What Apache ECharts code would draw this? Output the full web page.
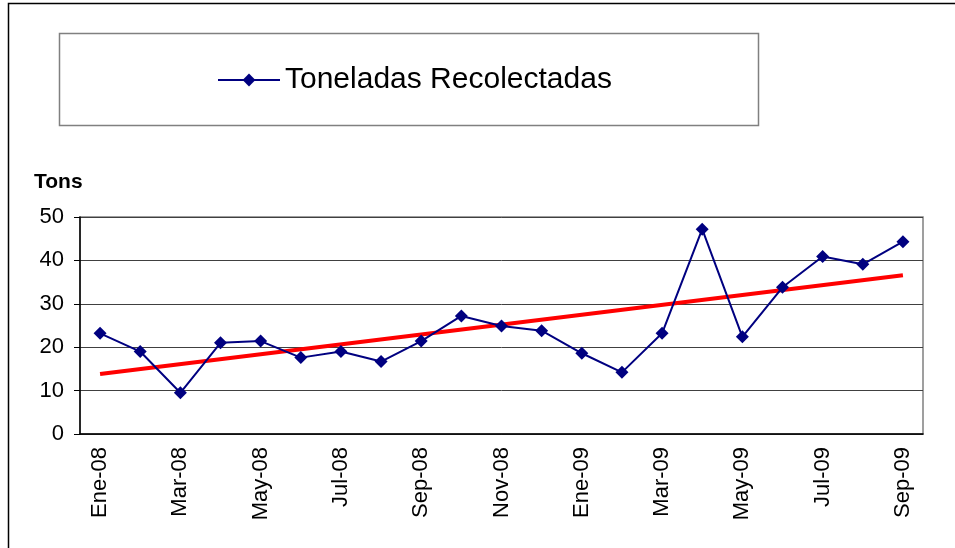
<!DOCTYPE html>
<html>
<head>
<meta charset="utf-8">
<script src="https://cdn.jsdelivr.net/npm/echarts@6/dist/echarts.min.js"></script>
<style>
html,body{margin:0;padding:0;background:#fff;}
#c{width:955px;height:548px;}
</style>
</head>
<body>
<div id="c"></div>
<script>
const categories = ['Ene-08','Feb-08','Mar-08','Abr-08','May-08','Jun-08','Jul-08','Ago-08','Sep-08','Oct-08','Nov-08','Dic-08','Ene-09','Feb-09','Mar-09','Abr-09','May-09','Jun-09','Jul-09','Ago-09','Sep-09'];
const tons = [23.2, 19.0, 9.5, 21.0, 21.4, 17.6, 19.0, 16.7, 21.4, 27.2, 24.9, 23.8, 18.6, 14.2, 23.2, 47.2, 22.4, 33.8, 40.9, 39.1, 44.3];
const trendStart = 13.8;
const trendEnd = 36.6;
const seriesName = 'Toneladas Recolectadas';
const yTitle = 'Tons';

const trend = categories.map((c, i) => i === 0 ? trendStart : (i === categories.length - 1 ? trendEnd : null));
const font = '"Liberation Sans", Arial, sans-serif';

const chart = echarts.init(document.getElementById('c'), null, {renderer: 'canvas'});
chart.setOption({
  animation: false,
  backgroundColor: '#fff',
  graphic: [
    {type: 'rect', shape: {x: 8.5, y: 3.5, width: 1000, height: 600}, style: {fill: 'none', stroke: '#000', lineWidth: 1.5}, z: 0},
    {type: 'rect', shape: {x: 59.5, y: 33.5, width: 699, height: 92}, style: {fill: '#fff', stroke: '#808080', lineWidth: 1.5}, z: 0},
    {type: 'text', left: 34, top: 172, style: {text: yTitle, font: 'bold 21px ' + font, fill: '#000'}}
  ],
  legend: {
    data: [seriesName],
    left: 212,
    top: 60,
    itemWidth: 62,
    itemHeight: 16,
    itemGap: 2,
    textStyle: {fontFamily: font, fontSize: 30, color: '#000'}
  },
  grid: {left: 80, top: 217, right: 32, bottom: 114, show: true, borderColor: '#808080', borderWidth: 1.5},
  xAxis: {
    type: 'category',
    data: categories,
    boundaryGap: true,
    axisLine: {lineStyle: {color: '#000', width: 1.5}},
    axisTick: {interval: 1, length: 6, lineStyle: {color: '#000'}},
    axisLabel: {interval: 1, rotate: 90, fontFamily: font, fontSize: 22, color: '#000', margin: 13},
    splitLine: {show: false}
  },
  yAxis: {
    type: 'value',
    min: 0, max: 50, interval: 10,
    axisLine: {show: true, lineStyle: {color: '#000', width: 1.5}},
    axisTick: {show: true, length: 6, lineStyle: {color: '#000'}},
    axisLabel: {fontFamily: font, fontSize: 22, color: '#000', margin: 16},
    splitLine: {lineStyle: {color: '#404040', width: 1}}
  },
  series: [
    {
      name: seriesName,
      type: 'line',
      data: tons,
      symbol: 'diamond',
      symbolSize: 13,
      itemStyle: {color: '#000080'},
      lineStyle: {color: '#000080', width: 2},
      z: 3
    },
    {
      name: 'Tendencia',
      type: 'line',
      data: trend,
      connectNulls: true,
      showSymbol: false,
      symbol: 'none',
      lineStyle: {color: '#ff0000', width: 4},
      z: 2
    }
  ]
});
</script>
</body>
</html>
